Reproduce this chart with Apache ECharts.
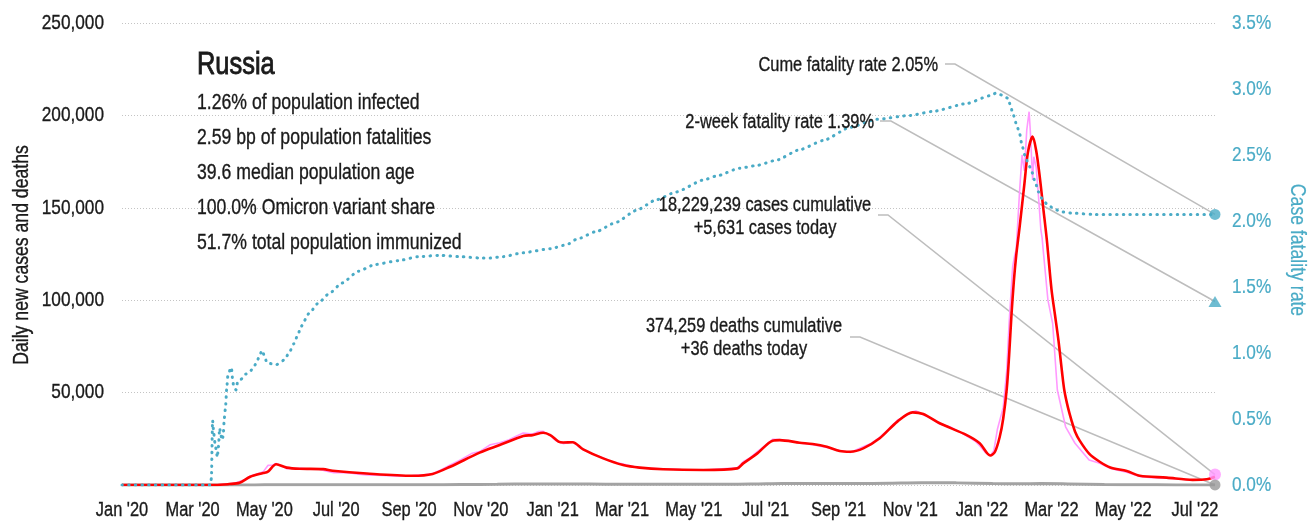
<!DOCTYPE html>
<html>
<head>
<meta charset="utf-8">
<script src="https://cdn.jsdelivr.net/npm/echarts@6/dist/echarts.min.js"></script>
<style>
  html, body { margin: 0; padding: 0; background: #ffffff; }
  #chart { width: 1312px; height: 525px; }
</style>
</head>
<body>
<div id="chart"></div>
<script>
// ---- Data: Russia, COVID-19 daily cases, deaths and case fatality rate ----

const firstDate = '2020-01-01';
const lastDate = '2022-07-18';

// Month tick positions and their labels on the date axis
const tickDates = ['2020-01-01', '2020-03-01', '2020-05-01', '2020-07-01', '2020-09-01', '2020-11-01',
  '2021-01-01', '2021-03-01', '2021-05-01', '2021-07-01', '2021-09-01', '2021-11-01',
  '2022-01-01', '2022-03-01', '2022-05-01', '2022-07-01'];
const tickLabels = ["Jan '20", "Mar '20", "May '20", "Jul '20", "Sep '20", "Nov '20",
  "Jan '21", "Mar '21", "May '21", "Jul '21", "Sep '21", "Nov '21",
  "Jan '22", "Mar '22", "May '22", "Jul '22"];

// Left axis (cases and deaths) and right axis (fatality rate, %) ticks
const countTicks = [50000, 100000, 150000, 200000, 250000];
const rateTicks = [0, 0.5, 1.0, 1.5, 2.0, 2.5, 3.0, 3.5];

// Daily new cases, 7-day average
const casesAvg = [
  ['2020-01-01', 0], ['2020-03-20', 0], ['2020-04-01', 500], ['2020-04-10', 1200], ['2020-04-19', 4500],
  ['2020-04-30', 6500], ['2020-05-04', 7200], ['2020-05-11', 11200], ['2020-05-20', 9400], ['2020-05-31', 8800],
  ['2020-06-20', 8600], ['2020-06-28', 7700], ['2020-07-27', 6200], ['2020-09-04', 5000], ['2020-09-21', 6000],
  ['2020-10-06', 9900], ['2020-10-31', 17500], ['2020-11-17', 21600], ['2020-12-07', 26500], ['2020-12-15', 27000],
  ['2020-12-24', 28300], ['2020-12-30', 27000], ['2021-01-06', 23500], ['2021-01-10', 23000], ['2021-01-18', 23100],
  ['2021-01-27', 19300], ['2021-02-13', 14400], ['2021-03-02', 10800], ['2021-03-16', 9400], ['2021-04-05', 8500],
  ['2021-05-09', 8100], ['2021-06-07', 9000], ['2021-06-12', 11700], ['2021-06-24', 17100], ['2021-07-07', 24000],
  ['2021-07-13', 24300], ['2021-07-30', 22900], ['2021-08-10', 22200], ['2021-08-22', 20700], ['2021-09-02', 18400],
  ['2021-09-11', 18000], ['2021-09-22', 19800], ['2021-10-06', 25300], ['2021-10-21', 34300], ['2021-11-03', 39300],
  ['2021-11-12', 38400], ['2021-11-26', 33400], ['2021-12-19', 27000], ['2021-12-30', 22600], ['2022-01-08', 16000],
  ['2022-01-12', 18000], ['2022-01-16', 26000], ['2022-01-19', 36000], ['2022-01-22', 52000], ['2022-01-24', 70000],
  ['2022-01-26', 92000], ['2022-01-28', 110000], ['2022-01-30', 124000], ['2022-02-02', 140000], ['2022-02-06', 163000],
  ['2022-02-09', 180000], ['2022-02-13', 188500], ['2022-02-16', 181000], ['2022-02-19', 167000], ['2022-02-22', 150000],
  ['2022-02-25', 133000], ['2022-03-01', 106000], ['2022-03-04', 92000], ['2022-03-07', 78000], ['2022-03-10', 61000],
  ['2022-03-12', 51000], ['2022-03-15', 42000], ['2022-03-18', 35000], ['2022-03-21', 29000], ['2022-03-25', 24000],
  ['2022-04-02', 17000], ['2022-04-11', 12600], ['2022-04-20', 9500], ['2022-05-04', 7600], ['2022-05-15', 5000],
  ['2022-06-07', 4000], ['2022-06-29', 2800], ['2022-07-11', 3100], ['2022-07-18', 4300]
];

// Daily new cases as reported
const casesDaily = [
  ['2020-01-01', 0], ['2020-03-20', 0], ['2020-03-31', 500], ['2020-04-07', 1150], ['2020-04-14', 2800],
  ['2020-04-19', 4900], ['2020-04-24', 5800], ['2020-04-30', 7100], ['2020-05-04', 10600], ['2020-05-08', 10800],
  ['2020-05-11', 11650], ['2020-05-15', 10600], ['2020-05-20', 8800], ['2020-05-26', 8900], ['2020-06-01', 9000],
  ['2020-06-08', 8600], ['2020-06-15', 8800], ['2020-06-22', 7600], ['2020-06-29', 6700], ['2020-07-06', 6600],
  ['2020-07-13', 6500], ['2020-07-20', 5900], ['2020-07-27', 5500], ['2020-08-10', 5100], ['2020-08-24', 4800],
  ['2020-09-04', 5100], ['2020-09-14', 5500], ['2020-09-21', 6200], ['2020-09-28', 8100], ['2020-10-06', 10800],
  ['2020-10-15', 13700], ['2020-10-24', 17000], ['2020-10-31', 18100], ['2020-11-09', 21800], ['2020-11-17', 22900],
  ['2020-11-25', 24500], ['2020-12-01', 26400], ['2020-12-07', 28100], ['2020-12-15', 27600], ['2020-12-20', 28900],
  ['2020-12-24', 29000], ['2020-12-30', 26800], ['2021-01-04', 23900], ['2021-01-10', 22400], ['2021-01-18', 23400],
  ['2021-01-27', 19000], ['2021-02-04', 16800], ['2021-02-13', 14600], ['2021-02-20', 12700], ['2021-03-02', 11300],
  ['2021-03-16', 9200], ['2021-04-05', 8800], ['2021-04-20', 8300], ['2021-05-09', 8000], ['2021-05-25', 8700],
  ['2021-06-07', 9300], ['2021-06-12', 12600], ['2021-06-18', 14800], ['2021-06-24', 18000], ['2021-07-01', 21500],
  ['2021-07-07', 24700], ['2021-07-13', 24600], ['2021-07-20', 24000], ['2021-07-30', 22700], ['2021-08-10', 21800],
  ['2021-08-22', 20300], ['2021-09-02', 18600], ['2021-09-11', 17600], ['2021-09-22', 20700], ['2021-09-29', 22600],
  ['2021-10-06', 25800], ['2021-10-13', 29900], ['2021-10-21', 35000], ['2021-10-28', 37400], ['2021-11-03', 39600],
  ['2021-11-06', 40100], ['2021-11-12', 38000], ['2021-11-19', 36000], ['2021-11-26', 33000], ['2021-12-05', 31400],
  ['2021-12-12', 29000], ['2021-12-19', 26500], ['2021-12-26', 23800], ['2021-12-30', 21300], ['2022-01-04', 17500],
  ['2022-01-08', 15800], ['2022-01-11', 18500], ['2022-01-14', 30000], ['2022-01-19', 42000], ['2022-01-22', 62000],
  ['2022-01-24', 87600], ['2022-01-27', 118000], ['2022-01-29', 125000], ['2022-01-30', 127000], ['2022-02-02', 160000],
  ['2022-02-04', 178600], ['2022-02-06', 170000], ['2022-02-08', 192000], ['2022-02-10', 202000], ['2022-02-11', 192000],
  ['2022-02-13', 165000], ['2022-02-14', 177600], ['2022-02-16', 172000], ['2022-02-18', 156000], ['2022-02-20', 138000],
  ['2022-02-21', 134000], ['2022-02-22', 127000], ['2022-02-26', 100000], ['2022-03-02', 87500], ['2022-03-06', 51400],
  ['2022-03-13', 31500], ['2022-03-21', 22600], ['2022-04-02', 13500], ['2022-04-11', 11800], ['2022-04-20', 9000],
  ['2022-05-04', 6900], ['2022-05-15', 4600], ['2022-05-25', 4000], ['2022-06-07', 3700], ['2022-06-20', 3100],
  ['2022-06-29', 2700], ['2022-07-08', 3000], ['2022-07-14', 3700], ['2022-07-18', 5631]
];

// Daily deaths
const deathsDaily = [
  ['2020-01-01', 0], ['2020-03-25', 0], ['2020-04-15', 30], ['2020-05-01', 90], ['2020-05-20', 140],
  ['2020-06-15', 150], ['2020-07-15', 140], ['2020-08-15', 110], ['2020-09-15', 110], ['2020-10-15', 240],
  ['2020-11-15', 410], ['2020-12-15', 560], ['2021-01-05', 520], ['2021-02-01', 500], ['2021-03-01', 400],
  ['2021-04-01', 370], ['2021-05-01', 370], ['2021-06-01', 380], ['2021-06-25', 580], ['2021-07-15', 770],
  ['2021-08-15', 790], ['2021-09-15', 800], ['2021-10-15', 990], ['2021-11-10', 1200], ['2021-12-10', 1150],
  ['2022-01-10', 800], ['2022-02-01', 680], ['2022-02-20', 760], ['2022-03-15', 600], ['2022-04-15', 300],
  ['2022-05-15', 120], ['2022-06-15', 60], ['2022-07-18', 36]
];

// Cumulative case fatality rate, percent
const fatalityRate = [
  ['2020-01-01', 0], ['2020-03-16', 0], ['2020-03-17', 0.05], ['2020-03-18', 0.49], ['2020-03-19', 0.39],
  ['2020-03-20', 0.32], ['2020-03-21', 0.27], ['2020-03-22', 0.21], ['2020-03-23', 0.29], ['2020-03-24', 0.43],
  ['2020-03-25', 0.38], ['2020-03-26', 0.34], ['2020-03-27', 0.37], ['2020-03-28', 0.51], ['2020-03-29', 0.59],
  ['2020-03-30', 0.73], ['2020-03-31', 0.83], ['2020-04-01', 0.85], ['2020-04-02', 0.88], ['2020-04-03', 0.89],
  ['2020-04-04', 0.80], ['2020-04-05', 0.74], ['2020-04-07', 0.72], ['2020-04-08', 0.77], ['2020-04-11', 0.80],
  ['2020-04-15', 0.84], ['2020-04-18', 0.85], ['2020-04-21', 0.88], ['2020-04-24', 0.92], ['2020-04-27', 0.98],
  ['2020-04-29', 1.02], ['2020-05-01', 0.98], ['2020-05-03', 0.93], ['2020-05-06', 0.92], ['2020-05-11', 0.91],
  ['2020-05-15', 0.93], ['2020-05-18', 0.95], ['2020-05-22', 1.0], ['2020-05-26', 1.07], ['2020-05-30', 1.15],
  ['2020-06-01', 1.2], ['2020-06-08', 1.3], ['2020-06-16', 1.38], ['2020-06-25', 1.45], ['2020-07-06', 1.53],
  ['2020-07-20', 1.62], ['2020-08-03', 1.67], ['2020-08-23', 1.70], ['2020-09-09', 1.73], ['2020-09-27', 1.74],
  ['2020-10-14', 1.73], ['2020-10-31', 1.72], ['2020-11-09', 1.72], ['2020-11-20', 1.73], ['2020-12-07', 1.76],
  ['2020-12-30', 1.79], ['2021-01-13', 1.82], ['2021-01-21', 1.86], ['2021-02-07', 1.92], ['2021-02-24', 1.99],
  ['2021-03-13', 2.08], ['2021-03-30', 2.16], ['2021-04-16', 2.22], ['2021-05-09', 2.31], ['2021-05-20', 2.34],
  ['2021-06-09', 2.40], ['2021-06-23', 2.42], ['2021-07-10', 2.46], ['2021-07-30', 2.54], ['2021-08-19', 2.61],
  ['2021-09-11', 2.71], ['2021-10-03', 2.77], ['2021-11-01', 2.80], ['2021-11-20', 2.83], ['2021-12-19', 2.89],
  ['2022-01-08', 2.95], ['2022-01-13', 2.97], ['2022-01-19', 2.95], ['2022-01-23', 2.93], ['2022-01-25', 2.88],
  ['2022-01-27', 2.82], ['2022-01-30', 2.74], ['2022-02-02', 2.66], ['2022-02-04', 2.57], ['2022-02-07', 2.48],
  ['2022-02-10', 2.42], ['2022-02-12', 2.38], ['2022-02-15', 2.30], ['2022-02-18', 2.22], ['2022-02-21', 2.17],
  ['2022-02-25', 2.13], ['2022-03-02', 2.10], ['2022-03-09', 2.07], ['2022-03-18', 2.06], ['2022-04-05', 2.05],
  ['2022-07-18', 2.05]
];

// Headline figures
const casesToday = 5631;
const deathsToday = 36;
const casesCumulative = 18229239;
const deathsCumulative = 374259;
const cumeFatality = 2.05;
const twoWeekFatality = 1.39;

const countryName = 'Russia';
const statLines = [
  '1.26% of population infected',
  '2.59 bp of population fatalities',
  '39.6 median population age',
  '100.0% Omicron variant share',
  '51.7% total population immunized'
];

// ---- Styling ----
// A condensed sans: Liberation Sans drawn with a horizontal squeeze
const FONT = "'Liberation Sans', Arial, sans-serif";
const SQUEEZE = 0.82;
const INK = '#1a1a1a';
const TEAL = '#4aabc6';
const RED = '#ff0000';
const PINK = '#ff99ff';
const GREY = '#a3a3a3';
const LEADER = '#bdbdbd';

const fmtInt = n => n.toLocaleString('en-US');
// Dates sit on a numeric (millisecond) axis so month ticks can be pinned exactly
const toT = d => Date.parse(d + 'T00:00:00Z');
const asXY = rows => rows.map(([d, v]) => [toT(d), v]);

const chart = echarts.init(document.getElementById('chart'), null, { renderer: 'canvas' });

const option = {
  animation: false,
  backgroundColor: '#ffffff',
  grid: { left: 122, right: 97, top: 23, bottom: 40, containLabel: false, outerBoundsMode: 'none' },
  xAxis: {
    type: 'value',
    min: toT(firstDate),
    max: toT(lastDate),
    axisLine: { show: false },
    axisTick: { show: false },
    splitLine: { show: false },
    axisLabel: { show: false }
  },
  yAxis: [
    {
      type: 'value', min: 0, max: 250000, interval: 50000,
      axisLine: { show: false }, axisTick: { show: false }, axisLabel: { show: false },
      splitLine: { show: true, lineStyle: { color: '#c4c4c4', type: [1, 2], width: 1 } }
    },
    {
      type: 'value', min: 0, max: 3.5, interval: 0.5, position: 'right',
      axisLine: { show: false }, axisTick: { show: false }, axisLabel: { show: false },
      splitLine: { show: false }
    }
  ],
  series: [
    {
      name: 'Deaths', type: 'line', yAxisIndex: 0, data: asXY(deathsDaily), showSymbol: false, smooth: 0.3,
      lineStyle: { color: GREY, width: 3 }, z: 2
    },
    {
      name: 'Cases (daily)', type: 'line', yAxisIndex: 0, data: asXY(casesDaily), showSymbol: false,
      lineStyle: { color: PINK, width: 1.6 }, z: 3
    },
    {
      name: 'Cases (7-day average)', type: 'line', yAxisIndex: 0, data: asXY(casesAvg), showSymbol: false,
      smooth: 0.3,
      lineStyle: { color: RED, width: 2.6 }, z: 4
    },
    {
      name: 'Case fatality rate', type: 'line', yAxisIndex: 1, data: asXY(fatalityRate), showSymbol: false,
      smooth: 0.2, smoothMonotone: 'x',
      lineStyle: { color: TEAL, width: 3, type: [0.5, 6.2], cap: 'round' }, z: 5
    },
    {
      name: 'Cases today', type: 'scatter', yAxisIndex: 0, data: [[toT(lastDate), casesToday]],
      symbol: 'circle', symbolSize: 12, itemStyle: { color: PINK }, z: 8
    },
    {
      name: 'Deaths today', type: 'scatter', yAxisIndex: 0, data: [[toT(lastDate), deathsToday]],
      symbol: 'circle', symbolSize: 11, itemStyle: { color: '#999999' }, z: 8
    },
    {
      name: 'Cume fatality rate', type: 'scatter', yAxisIndex: 1, data: [[toT(lastDate), cumeFatality]],
      symbol: 'circle', symbolSize: 11, itemStyle: { color: TEAL }, z: 8
    },
    {
      name: '2-week fatality rate', type: 'scatter', yAxisIndex: 1, data: [[toT(lastDate), twoWeekFatality]],
      symbol: 'triangle', symbolSize: [13, 11], itemStyle: { color: TEAL }, z: 8
    }
  ]
};

chart.setOption(option);

// ---- Text: axis labels, axis titles, info block and callouts ----
// A hairline outline in the fill colour gives the squeezed glyphs a slightly heavier stem
const textEl = (text, x, y, opts = {}) => ({
  type: 'text', x, y, silent: true, z: 20,
  scaleX: SQUEEZE, rotation: opts.rotation || 0,
  style: {
    text, fill: opts.color || INK, font: `${opts.size || 20}px ${FONT}`,
    stroke: opts.color || INK, lineWidth: opts.weight || 0.35,
    textAlign: opts.align || 'left', textVerticalAlign: 'middle'
  }
});

const px = (finder, value) => chart.convertToPixel(finder, value);
const graphics = [];

// Date axis labels, placed through the x scale
const xLabelY = 510;
tickDates.forEach((d, i) => {
  const x = px({ seriesIndex: 0 }, [toT(d), 0])[0];
  graphics.push(textEl(tickLabels[i], x, xLabelY, { align: 'center', size: 20 }));
});

// Left axis labels (counts) and right axis labels (percent)
countTicks.forEach(v => {
  const y = px({ seriesIndex: 0 }, [toT(firstDate), v])[1];
  graphics.push(textEl(fmtInt(v), 104, y, { align: 'right', size: 21 }));
});
rateTicks.forEach(v => {
  const y = px({ seriesIndex: 3 }, [toT(firstDate), v])[1];
  graphics.push(textEl(v.toFixed(1) + '%', 1232, y, { align: 'left', size: 21, color: TEAL, weight: 0.2 }));
});

// Axis titles
graphics.push(textEl('Daily new cases and deaths', 22, 255, { align: 'center', size: 21.5, rotation: Math.PI / 2 }));
graphics.push(textEl('Case fatality rate', 1297, 250, { align: 'center', size: 21.5, rotation: -Math.PI / 2, color: TEAL, weight: 0.2 }));

// Country block
graphics.push(textEl(countryName, 197, 65, { size: 31, weight: 0.9 }));
statLines.forEach((s, i) => graphics.push(textEl(s, 197, 103 + i * 35, { size: 21.5 })));

// Callouts: label anchor, elbow, and the marker each one points at
const callouts = [
  { lines: ['Cume fatality rate ' + cumeFatality.toFixed(2) + '%'], tx: 938, ty: 65, align: 'right',
    start: [945, 64], elbow: [955, 64], seriesIndex: 6, point: [toT(lastDate), cumeFatality] },
  { lines: ['2-week fatality rate ' + twoWeekFatality.toFixed(2) + '%'], tx: 874, ty: 122, align: 'right',
    start: [880, 121], elbow: [891, 121], seriesIndex: 7, point: [toT(lastDate), twoWeekFatality] },
  { lines: [fmtInt(casesCumulative) + ' cases cumulative', '+' + fmtInt(casesToday) + ' cases today'],
    tx: 765, ty: 205, align: 'center',
    start: [878, 215], elbow: [888, 215], seriesIndex: 4, point: [toT(lastDate), casesToday] },
  { lines: [fmtInt(deathsCumulative) + ' deaths cumulative', '+' + fmtInt(deathsToday) + ' deaths today'],
    tx: 744, ty: 326, align: 'center',
    start: [850, 337], elbow: [860, 337], seriesIndex: 5, point: [toT(lastDate), deathsToday] }
];

callouts.forEach(c => {
  c.lines.forEach((l, i) => graphics.push(textEl(l, c.tx, c.ty + i * 23, { align: c.align, size: 20 })));
  const end = px({ seriesIndex: c.seriesIndex }, c.point);
  graphics.push({
    type: 'polyline', silent: true, z: 1,
    shape: { points: [c.start, c.elbow, end] },
    style: { stroke: LEADER, lineWidth: 1.5, fill: null }
  });
});

chart.setOption({ graphic: graphics });
</script>
</body>
</html>
